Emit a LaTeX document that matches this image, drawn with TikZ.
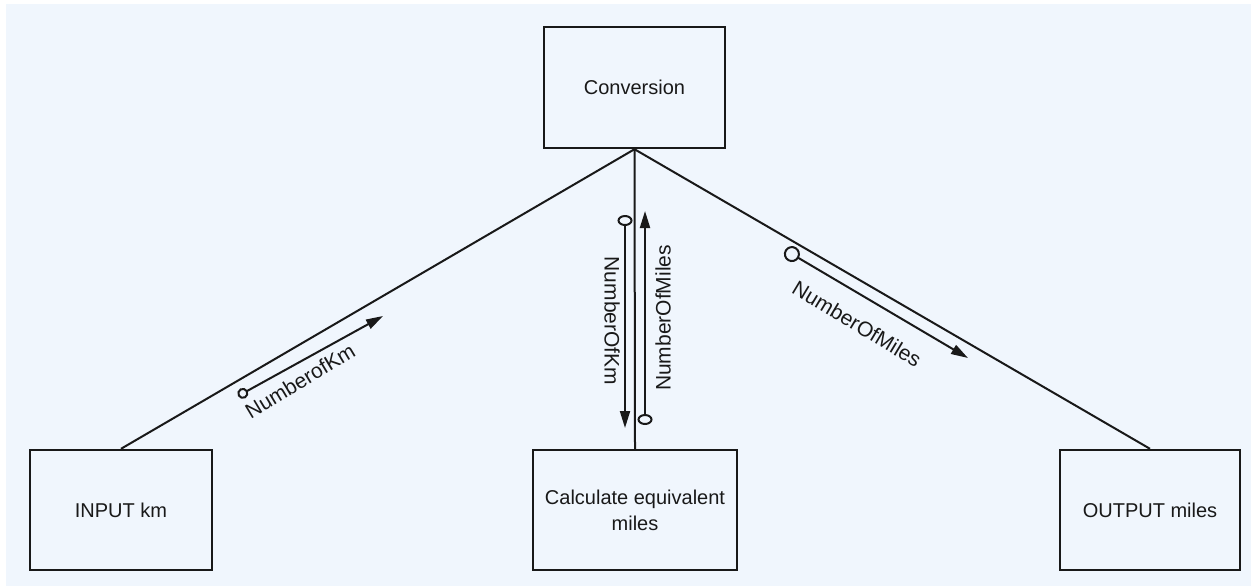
\documentclass[tikz,border=0pt]{standalone}
\usepackage{fontspec}
\setmainfont{Liberation Sans}
\usetikzlibrary{arrows.meta}
\definecolor{panel}{RGB}{240,246,253}
\definecolor{ink}{RGB}{25,25,25}

\begin{document}
\begin{tikzpicture}[x=0.5pt,y=-0.5pt,
  box/.style={draw=ink, line width=1.2pt, inner sep=0pt, align=center,
    font=\fontsize{10}{13}\selectfont, text=ink},
  link/.style={draw=ink, line width=1pt},
  flow/.style={draw=ink, line width=1pt},
  lbl/.style={font=\fontsize{10.5}{12}\selectfont, inner sep=0pt, text=ink}]

% page and panel
\useasboundingbox (0,0) rectangle (1251,586);
\fill[white] (0,0) rectangle (1251,586);
\fill[panel] (6,4) rectangle (1251,586);

% structure chart boxes
\node[box, minimum width=90.5pt, minimum height=60.5pt] (conv) at (634.5,87.5) {Conversion};
\node[box, minimum width=91pt, minimum height=60pt] (input) at (121,510) {INPUT km};
\node[box, minimum width=102pt, minimum height=60pt] (calc) at (635,510) {Calculate equivalent\\miles};
\node[box, minimum width=90pt, minimum height=60pt] (output) at (1150,510) {OUTPUT miles};

% calls from the top module
\draw[link] (conv.south) -- (input.north);
\draw[link] (conv.south) -- (calc.north);
\draw[link] (conv.south) -- (output.north);

% data couples
\coordinate (kmA) at (238,396);
\coordinate (kmB) at (383,316);
\draw[flow, {Circle[open, length=5.5pt, width=5.5pt]}-{Triangle[length=8.5pt, width=5pt]}] (kmA) -- (kmB);
\node[lbl, rotate=31] (kmlbl) at (300,381) {NumberofKm};

\coordinate (kmC) at (625,215);
\coordinate (kmD) at (625,428);
\draw[flow, {Circle[open, length=5.5pt, width=7.5pt]}-{Triangle[length=8.5pt, width=5pt]}] (kmC) -- (kmD);
\node[lbl, rotate=-90] (kmlbl2) at (612,321) {NumberOfKm};

\coordinate (miA) at (645,425);
\coordinate (miB) at (645,211);
\draw[flow, {Circle[open, length=5.5pt, width=7.5pt]}-{Triangle[length=8.5pt, width=5pt]}] (miA) -- (miB);
\node[lbl, rotate=90] (milbl) at (663,318) {NumberOfMiles};

\coordinate (miC) at (785,250);
\coordinate (miD) at (968,358);
\draw[flow, {Circle[open, length=8pt, width=8pt]}-{Triangle[length=8.5pt, width=5pt]}] (miC) -- (miD);
\node[lbl, rotate=-31] (milbl2) at (857,324) {NumberOfMiles};
\end{tikzpicture}
\end{document}
